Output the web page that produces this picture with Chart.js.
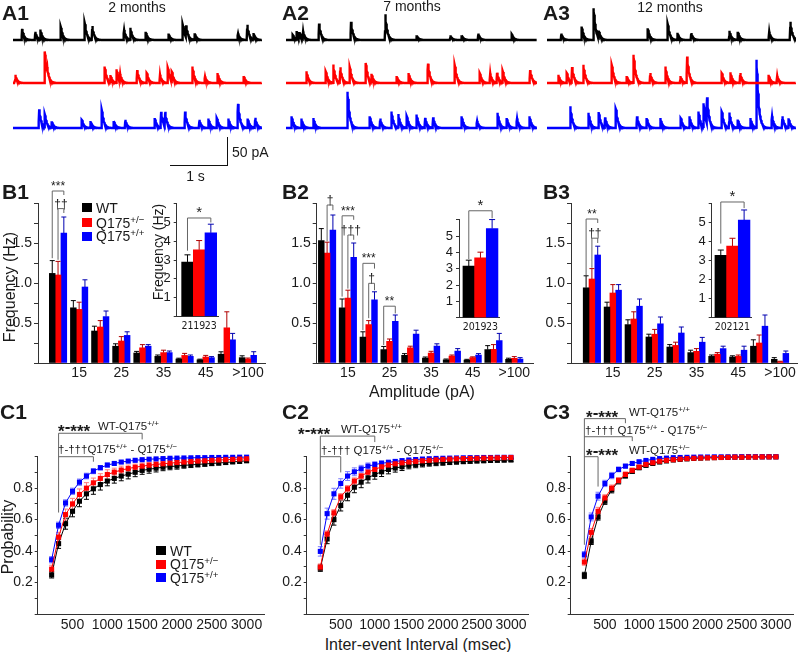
<!DOCTYPE html>
<html>
<head>
<meta charset="utf-8">
<script src="https://cdn.jsdelivr.net/npm/chart.js@4.4.0/dist/chart.umd.min.js"></script>
<style>
  body { margin: 0; background: #fff; }
  #fig { position: relative; width: 800px; height: 652px; overflow: hidden; background: #fff;
         font-family: "Liberation Sans", Arial, sans-serif; color: #1a1a1a; }
  #fig canvas { position: absolute; }
  .t { position: absolute; white-space: nowrap; line-height: 1; transform: translateY(-50%); }
  .c { transform: translate(-50%, -50%); }
  .r { transform: translate(-50%, -50%) rotate(-90deg); }
  .p { font-weight: bold; font-size: 21px; }
  .s { font-size: 70%; position: relative; top: -0.5em; }
  .sw { position: absolute; width: 10px; height: 9px; }
  .st { font-weight: bold; font-size: 17px; }
  .st i { font-style: normal; position: relative; top: -0.27em; }
</style>
</head>
<body>
<div id="fig">
  <canvas id="a1"></canvas><canvas id="a2"></canvas><canvas id="a3"></canvas>
  <canvas id="b1"></canvas><canvas id="b2"></canvas><canvas id="b3"></canvas>
  <canvas id="b1i"></canvas><canvas id="b2i"></canvas><canvas id="b3i"></canvas>
  <canvas id="c1"></canvas><canvas id="c2"></canvas><canvas id="c3"></canvas>

  <!-- panel letters and titles -->
  <div class="t p" style="left:2px;top:11.5px">A1</div>
  <div class="t p" style="left:282px;top:11.5px">A2</div>
  <div class="t p" style="left:543px;top:11.5px">A3</div>
  <div class="t c" style="left:137px;top:7px;font-size:14px">2 months</div>
  <div class="t c" style="left:412px;top:6px;font-size:14px">7 months</div>
  <div class="t c" style="left:670px;top:6.5px;font-size:14px">12 months</div>

  <!-- scale bar -->
  <div style="position:absolute;left:227px;top:137px;width:1px;height:29px;background:#111"></div>
  <div style="position:absolute;left:170px;top:165px;width:58px;height:1px;background:#111"></div>
  <div class="t" style="left:232px;top:152px;font-size:14px">50 pA</div>
  <div class="t c" style="left:195.5px;top:176px;font-size:14px">1 s</div>

  <div class="t p" style="left:2px;top:190.5px">B1</div>
  <div class="t p" style="left:282px;top:191px">B2</div>
  <div class="t p" style="left:543px;top:190.5px">B3</div>
  <div class="t r" style="left:10px;top:287px;font-size:16px">Frequency (Hz)</div>
  <div class="t r" style="left:158px;top:252px;font-size:14px">Frequency (Hz)</div>
  <div class="t c" style="left:422px;top:392px;font-size:16px">Amplitude (pA)</div>

  <!-- B legend -->
  <div class="sw" style="left:82px;top:203px;background:#000"></div>
  <div class="sw" style="left:82px;top:218px;background:#ff0000"></div>
  <div class="sw" style="left:82px;top:231.5px;background:#0000ff"></div>
  <div class="t" style="left:96px;top:207.5px;font-size:14px">WT</div>
  <div class="t" style="left:96px;top:222.5px;font-size:14px">Q175<span class="s">+/−</span></div>
  <div class="t" style="left:96px;top:236px;font-size:14px">Q175<span class="s">+/+</span></div>

  <div class="t p" style="left:0px;top:410.5px">C1</div>
  <div class="t p" style="left:282px;top:410.5px">C2</div>
  <div class="t p" style="left:543px;top:410.5px">C3</div>
  <div class="t r" style="left:8px;top:537px;font-size:16px">Probability</div>
  <div class="t c" style="left:418px;top:645px;font-size:16px">Inter-event Interval (msec)</div>

  <!-- C legend -->
  <div class="sw" style="left:156px;top:546px;background:#000"></div>
  <div class="sw" style="left:156px;top:559.5px;background:#ff0000"></div>
  <div class="sw" style="left:156px;top:573px;background:#0000ff"></div>
  <div class="t" style="left:170px;top:550.5px;font-size:14px">WT</div>
  <div class="t" style="left:170px;top:564px;font-size:14px">Q175<span class="s">+/−</span></div>
  <div class="t" style="left:170px;top:577.5px;font-size:14px">Q175<span class="s">+/+</span></div>

  <!-- C significance labels -->
  <div class="t st" style="left:58px;top:431px">*<i>-</i>***</div>
  <div class="t" style="left:98px;top:427px;font-size:11.5px">WT-Q175<span class="s">+/+</span></div>
  <div class="t" style="left:58px;top:450px;font-size:11.5px">†-†††Q175<span class="s">+/+</span> - Q175<span class="s">+/−</span></div>
  <div class="t st" style="left:298px;top:434px">*<i>-</i>***</div>
  <div class="t" style="left:341px;top:430px;font-size:11.5px">WT-Q175<span class="s">+/+</span></div>
  <div class="t" style="left:321px;top:451px;font-size:11.5px">†-††† Q175<span class="s">+/+</span> - Q175<span class="s">+/−</span></div>
  <div class="t st" style="left:586px;top:416.7px">*<i>-</i>***</div>
  <div class="t" style="left:629px;top:412.7px;font-size:11.5px">WT-Q175<span class="s">+/+</span></div>
  <div class="t" style="left:585px;top:430.7px;font-size:11.5px">†-††† Q175<span class="s">+/+</span> - Q175<span class="s">+/−</span></div>
  <div class="t st" style="left:586px;top:455px">*<i>-</i>***</div>
  <div class="t" style="left:629px;top:451px;font-size:11.5px">WT-Q175<span class="s">+/−</span></div>
</div>

<script>
/* ---------- data ---------- */

/* A: sample traces, event times (s) and amplitudes (pA) */
var A1_WT_T = [0.16, 0.39, 0.48, 0.84, 1.26, 1.39, 1.95, 2.06, 2.33, 2.73, 2.98, 3.04, 3.19, 3.95, 4.11, 4.22];
var A1_WT_A = [19, 14, 17, 23, 30, 23, 17, 20, 14, 11, 27, 20, 11, 11, 26, 11];
var A1_HET_T = [0.04, 0.56, 0.60, 1.61, 1.71, 1.82, 1.88, 2.18, 2.35, 2.58, 2.72, 2.79, 3.15, 3.37, 3.59, 4.05];
var A1_HET_A = [14, 54, 10, 28, 12, 23, 11, 22, 17, 14, 26, 16, 28, 11, 17, 12];
var A1_HOM_T = [0.46, 0.56, 0.68, 1.21, 1.36, 1.56, 1.77, 1.97, 2.49, 2.60, 2.67, 3.02, 3.27, 3.43, 3.58, 3.78, 3.95, 4.12, 4.25];
var A1_HOM_A = [32, 22, 11, 14, 12, 31, 12, 14, 17, 27, 24, 28, 14, 16, 17, 16, 41, 16, 17];

var A2_WT_T = [0.12, 0.19, 0.24, 0.30, 0.58, 1.14, 1.74, 2.29, 2.88, 3.08, 3.37, 3.96];
var A2_WT_A = [9, 14, 10, 12, 28, 31, 44, 8, 8, 8, 11, 10];
var A2_HET_T = [0.36, 0.70, 0.83, 0.95, 1.12, 1.40, 1.50, 1.94, 2.15, 2.49, 2.96, 3.40, 3.58, 3.70, 3.80, 4.28];
var A2_HET_A = [20, 20, 31, 26, 27, 34, 14, 12, 17, 33, 31, 17, 16, 17, 20, 22];
var A2_HOM_T = [0.10, 0.27, 0.48, 1.08, 1.47, 1.65, 1.85, 1.97, 2.12, 2.29, 2.44, 2.58, 3.08, 3.35, 3.71, 3.87, 4.05, 4.27];
var A2_HOM_A = [20, 16, 17, 62, 20, 16, 28, 23, 20, 23, 17, 18, 20, 12, 26, 17, 16, 20];

var A3_WT_T = [0.25, 0.61, 0.82, 0.91, 1.77, 2.12, 2.29, 2.53, 3.20, 3.35, 3.90, 4.27];
var A3_WT_A = [11, 23, 54, 12, 20, 28, 12, 12, 16, 14, 14, 31];
var A3_HET_T = [0.20, 0.35, 0.44, 0.64, 1.14, 1.40, 1.52, 1.81, 2.08, 2.34, 2.46, 3.07, 3.22, 3.39, 3.89, 4.04];
var A3_HET_A = [14, 17, 26, 31, 31, 12, 48, 17, 28, 12, 45, 17, 18, 17, 14, 12];
var A3_HOM_T = [0.41, 0.73, 0.91, 1.02, 1.21, 1.58, 1.75, 1.99, 2.35, 2.50, 2.66, 2.75, 2.81, 3.07, 3.20, 3.35, 3.57, 3.68, 3.95, 4.13, 4.24];
var A3_HOM_A = [37, 26, 27, 17, 33, 20, 17, 17, 17, 20, 28, 40, 45, 28, 26, 14, 17, 116, 20, 20, 16];

/* B: amplitude histogram (Hz) */
var BINS = ['10', '15', '20', '25', '30', '35', '40', '45', '100', '>100'];
var BIN_TICKS = ['15', '25', '35', '45', '>100'];
var B1_WT = [1.12, 0.69, 0.40, 0.21, 0.125, 0.083, 0.05, 0.04, 0.11, 0.067];
var B1_WT_ERR = [0.16, 0.09, 0.06, 0.03, 0.02, 0.017, 0.01, 0.008, 0.03, 0.023];
var B1_HET = [1.10, 0.67, 0.45, 0.275, 0.19, 0.13, 0.095, 0.075, 0.44, 0.05];
var B1_HET_ERR = [0.17, 0.09, 0.08, 0.055, 0.04, 0.03, 0.025, 0.02, 0.20, 0.012];
var B1_HOM = [1.625, 0.95, 0.58, 0.345, 0.21, 0.13, 0.083, 0.067, 0.29, 0.096];
var B1_HOM_ERR = [0.20, 0.09, 0.07, 0.045, 0.02, 0.02, 0.017, 0.013, 0.08, 0.045];

var B2_WT = [1.53, 0.69, 0.325, 0.167, 0.096, 0.063, 0.04, 0.038, 0.167, 0.046];
var B2_WT_ERR = [0.15, 0.11, 0.065, 0.04, 0.021, 0.012, 0.01, 0.008, 0.05, 0.014];
var B2_HET = [1.375, 0.81, 0.48, 0.27, 0.19, 0.125, 0.088, 0.067, 0.17, 0.058];
var B2_HET_ERR = [0.135, 0.10, 0.05, 0.03, 0.02, 0.021, 0.012, 0.01, 0.06, 0.022];
var B2_HOM = [1.66, 1.32, 0.79, 0.52, 0.36, 0.21, 0.15, 0.10, 0.28, 0.05];
var B2_HOM_ERR = [0.19, 0.18, 0.10, 0.08, 0.05, 0.03, 0.03, 0.017, 0.09, 0.017];

var B3_WT = [0.94, 0.70, 0.48, 0.325, 0.20, 0.13, 0.083, 0.075, 0.21, 0.046];
var B3_WT_ERR = [0.15, 0.06, 0.06, 0.035, 0.03, 0.03, 0.017, 0.015, 0.08, 0.021];
var B3_HET = [1.05, 0.875, 0.55, 0.36, 0.22, 0.146, 0.11, 0.083, 0.25, 0.017];
var B3_HET_ERR = [0.13, 0.105, 0.09, 0.06, 0.04, 0.034, 0.02, 0.017, 0.10, 0.005];
var B3_HOM = [1.35, 0.91, 0.71, 0.49, 0.375, 0.26, 0.18, 0.16, 0.46, 0.12];
var B3_HOM_ERR = [0.11, 0.07, 0.09, 0.085, 0.075, 0.06, 0.03, 0.05, 0.14, 0.03];

/* B insets: total frequency (Hz) and n cells */
var B1_TOTAL = [2.9, 3.55, 4.45];  var B1_TOTAL_ERR = [0.38, 0.49, 0.46];  var B1_N = ['21', '19', '23'];
var B2_TOTAL = [3.16, 3.67, 5.47]; var B2_TOTAL_ERR = [0.37, 0.35, 0.55]; var B2_N = ['20', '19', '23'];
var B3_TOTAL = [3.28, 3.77, 5.14]; var B3_TOTAL_ERR = [0.28, 0.41, 0.53]; var B3_N = ['20', '21', '21'];

/* C: cumulative inter-event interval */
var INTERVALS = [200, 300, 400, 500, 600, 700, 800, 900, 1000, 1100, 1200, 1300, 1400, 1500, 1600, 1700, 1800, 1900, 2000,
                 2100, 2200, 2300, 2400, 2500, 2600, 2700, 2800, 2900, 3000];
var INTERVAL_TICKS = [500, 1000, 1500, 2000, 2500, 3000];
var C1_WT = [0.249, 0.447, 0.574, 0.653, 0.717, 0.764, 0.796, 0.823, 0.845, 0.862, 0.877, 0.889, 0.901, 0.913, 0.920, 0.927, 0.933, 0.937, 0.941,
             0.945, 0.948, 0.951, 0.954, 0.957, 0.960, 0.963, 0.967, 0.970, 0.974];
var C1_WT_ERR = [0.02, 0.03, 0.035, 0.035, 0.035, 0.035, 0.035, 0.035, 0.03, 0.03, 0.03, 0.03, 0.028, 0.025, 0.025, 0.024, 0.022, 0.02, 0.02,
                 0.018, 0.017, 0.016, 0.015, 0.014, 0.013, 0.012, 0.011, 0.010, 0.010];
var C1_HET = [0.285, 0.489, 0.632, 0.700, 0.760, 0.800, 0.834, 0.862, 0.887, 0.902, 0.915, 0.925, 0.933, 0.940, 0.946, 0.951, 0.955, 0.959, 0.963,
              0.966, 0.969, 0.972, 0.974, 0.977, 0.979, 0.981, 0.983, 0.985, 0.987];
var C1_HET_ERR = [0.025, 0.03, 0.035, 0.035, 0.035, 0.035, 0.03, 0.03, 0.03, 0.025, 0.025, 0.022, 0.02, 0.02, 0.018, 0.017, 0.016, 0.015, 0.014,
                  0.013, 0.012, 0.011, 0.010, 0.010, 0.009, 0.008, 0.008, 0.007, 0.007];
var C1_HOM = [0.345, 0.564, 0.706, 0.780, 0.838, 0.877, 0.908, 0.930, 0.947, 0.957, 0.966, 0.972, 0.977, 0.981, 0.984, 0.986, 0.988, 0.990, 0.991,
              0.992, 0.993, 0.994, 0.994, 0.995, 0.995, 0.996, 0.996, 0.997, 0.997];
var C1_HOM_ERR = [0.02, 0.02, 0.02, 0.02, 0.02, 0.018, 0.016, 0.014, 0.012, 0.01, 0.009, 0.008, 0.007, 0.006, 0.006, 0.005, 0.005, 0.005, 0.004,
                  0.004, 0.004, 0.003, 0.003, 0.003, 0.003, 0.003, 0.003, 0.003, 0.003];

var C2_WT = [0.291, 0.477, 0.600, 0.690, 0.755, 0.806, 0.838, 0.866, 0.887, 0.904, 0.919, 0.928, 0.936, 0.945, 0.950, 0.954, 0.958, 0.960, 0.962,
             0.965, 0.967, 0.969, 0.971, 0.973, 0.974, 0.976, 0.977, 0.978, 0.979];
var C2_WT_ERR = [0.02, 0.03, 0.035, 0.035, 0.035, 0.035, 0.035, 0.033, 0.03, 0.03, 0.028, 0.026, 0.024, 0.022, 0.02, 0.019, 0.018, 0.017, 0.016,
                 0.015, 0.014, 0.013, 0.012, 0.012, 0.011, 0.011, 0.010, 0.010, 0.010];
var C2_HET = [0.298, 0.508, 0.643, 0.745, 0.796, 0.845, 0.877, 0.902, 0.919, 0.936, 0.947, 0.955, 0.961, 0.966, 0.970, 0.974, 0.977, 0.980, 0.983,
              0.985, 0.987, 0.988, 0.989, 0.990, 0.991, 0.992, 0.993, 0.994, 0.995];
var C2_HET_ERR = [0.02, 0.02, 0.02, 0.02, 0.02, 0.02, 0.018, 0.016, 0.015, 0.013, 0.012, 0.011, 0.01, 0.009, 0.008, 0.007, 0.007, 0.006, 0.006,
                  0.005, 0.005, 0.005, 0.004, 0.004, 0.004, 0.004, 0.004, 0.004, 0.004];
var C2_HOM = [0.398, 0.638, 0.764, 0.830, 0.877, 0.904, 0.923, 0.940, 0.950, 0.958, 0.964, 0.970, 0.975, 0.979, 0.982, 0.985, 0.987, 0.989, 0.990,
              0.991, 0.992, 0.993, 0.994, 0.994, 0.995, 0.995, 0.996, 0.996, 0.996];
var C2_HOM_ERR = [0.03, 0.035, 0.035, 0.03, 0.028, 0.025, 0.022, 0.02, 0.018, 0.016, 0.014, 0.012, 0.011, 0.01, 0.009, 0.008, 0.007, 0.006, 0.006,
                  0.005, 0.005, 0.005, 0.004, 0.004, 0.004, 0.004, 0.004, 0.004, 0.004];

var C3_WT = [0.245, 0.462, 0.617, 0.717, 0.790, 0.845, 0.880, 0.908, 0.930, 0.945, 0.957, 0.966, 0.973, 0.979, 0.983, 0.986, 0.989, 0.991, 0.993,
             0.994, 0.995, 0.996, 0.997, 0.997, 0.998, 0.998, 0.999, 0.999, 0.999];
var C3_WT_ERR = [0.02, 0.02, 0.02, 0.02, 0.02, 0.018, 0.016, 0.014, 0.012, 0.01, 0.009, 0.008, 0.007, 0.006, 0.005, 0.005, 0.004, 0.004, 0.003,
                 0.003, 0.003, 0.003, 0.002, 0.002, 0.002, 0.002, 0.002, 0.002, 0.002];
var C3_HET = [0.330, 0.519, 0.653, 0.738, 0.800, 0.849, 0.887, 0.913, 0.934, 0.951, 0.962, 0.971, 0.977, 0.981, 0.985, 0.988, 0.990, 0.992, 0.993,
              0.994, 0.995, 0.996, 0.997, 0.997, 0.998, 0.998, 0.999, 0.999, 0.999];
var C3_HET_ERR = [0.02, 0.025, 0.025, 0.02, 0.02, 0.018, 0.016, 0.014, 0.012, 0.01, 0.009, 0.008, 0.007, 0.006, 0.005, 0.005, 0.004, 0.004, 0.003,
                  0.003, 0.003, 0.003, 0.002, 0.002, 0.002, 0.002, 0.002, 0.002, 0.002];
var C3_HOM = [0.377, 0.617, 0.749, 0.830, 0.880, 0.919, 0.940, 0.957, 0.968, 0.976, 0.983, 0.988, 0.991, 0.994, 0.995, 0.996, 0.997, 0.998, 0.998,
              0.999, 0.999, 0.999, 0.999, 1.0, 1.0, 1.0, 1.0, 1.0, 1.0];
var C3_HOM_ERR = [0.02, 0.025, 0.025, 0.02, 0.02, 0.015, 0.012, 0.01, 0.008, 0.007, 0.006, 0.005, 0.004, 0.004, 0.003, 0.003, 0.003, 0.002, 0.002,
                  0.002, 0.002, 0.002, 0.002, 0.002, 0.002, 0.002, 0.002, 0.002, 0.002];

/* ---------- styling ---------- */
var COLORS = ['#000000', '#ff0000', '#0000ff'];
var BAR_ERR = ['#000000', '#b00000', '#0000b0'];
var CDF_ERR = ['#000000', '#ff7a7a', '#7a7aff'];
var INK = '#1a1a1a';
var AXIS = '#333333';
var BRACKET = '#666666';
var NARROW = '"Liberation Sans Narrow", "DejaVu Sans Condensed", "Liberation Sans", Arial, sans-serif';

Chart.defaults.font.family = '"Liberation Sans", Arial, sans-serif';
Chart.defaults.color = INK;

function place(id, L, T, W, H) {
  var c = document.getElementById(id);
  c.width = W; c.height = H;
  c.style.left = L + 'px'; c.style.top = T + 'px';
  c.style.width = W + 'px'; c.style.height = H + 'px';
  return c;
}

function baseOpts(L, T, W, H, area) {
  return {
    responsive: false, animation: false, events: [],
    layout: { padding: { left: 0, bottom: 0, top: area.t - T, right: L + W - area.r } },
    plugins: { legend: { display: false }, tooltip: { enabled: false } }
  };
}

/* fixed tick positions, so that bounds never swallow a labelled tick */
function fixedTicks(values) {
  return function (s) { s.ticks = values.map(function (v) { return { value: v }; }); };
}

/* error bars: up only for bars, both ways for the cumulative curves */
function drawErr(chart) {
  var ctx = chart.ctx, ys = chart.scales.y;
  chart.data.datasets.forEach(function (ds, di) {
    if (!ds.errs) { return; }
    var meta = chart.getDatasetMeta(di);
    ctx.save();
    ctx.lineWidth = 1;
    meta.data.forEach(function (el, i) {
      var v = ds.data[i].y, e = ds.errs[i];
      var top = ys.getPixelForValue(v + e);
      var bot = ys.getPixelForValue(ds.errBoth ? v - e : v);
      var cap = ds.capHalf;
      ctx.strokeStyle = Array.isArray(ds.errColor) ? ds.errColor[i] : ds.errColor;
      ctx.beginPath();
      ctx.moveTo(el.x, bot); ctx.lineTo(el.x, top);
      ctx.moveTo(el.x - cap, top); ctx.lineTo(el.x + cap, top);
      if (ds.errBoth) { ctx.moveTo(el.x - cap, bot); ctx.lineTo(el.x + cap, bot); }
      ctx.stroke();
    });
    ctx.restore();
  });
}
var errorBars = {
  id: 'errorBars',
  beforeDatasetsDraw: function (chart) { if (chart.config.type === 'line') { drawErr(chart); } },
  afterDatasetsDraw: function (chart) { if (chart.config.type === 'bar') { drawErr(chart); } }
};

/* significance brackets; ends given as [dataset, bar] or as x values */
function bracketPlugin(items, fontSize) {
  return {
    id: 'brackets',
    afterDatasetsDraw: function (chart) {
      var ctx = chart.ctx, xs = chart.scales.x, ys = chart.scales.y;
      ctx.save();
      ctx.strokeStyle = BRACKET; ctx.lineWidth = 1; ctx.fillStyle = INK;
      ctx.font = fontSize + 'px "Liberation Sans", Arial, sans-serif';
      ctx.textAlign = 'center'; ctx.textBaseline = 'alphabetic';
      items.forEach(function (b) {
        var x1 = b.p1 ? chart.getDatasetMeta(b.p1[0]).data[b.p1[1]].x : xs.getPixelForValue(b.x1);
        var x2 = b.p2 ? chart.getDatasetMeta(b.p2[0]).data[b.p2[1]].x : xs.getPixelForValue(b.x2);
        var yt = ys.getPixelForValue(b.top);
        ctx.beginPath();
        ctx.moveTo(x1, ys.getPixelForValue(b.la));
        ctx.lineTo(x1, yt); ctx.lineTo(x2, yt);
        ctx.lineTo(x2, ys.getPixelForValue(b.lb));
        ctx.stroke();
        if (b.text) { ctx.fillText(b.text, (x1 + x2) / 2, yt - 1); }
      });
      ctx.restore();
    }
  };
}

/* ---------- A: traces ---------- */
var TR_MAX = 68.3, TR_MIN = -187.7;           /* 150 px tall, 50 pA = 29 px */
var TR_OFFSET = [0, -73.4, -150.2];           /* black, red, blue baselines */
var RISE = 0.006, TAU = 0.035, STEP = 0.004;

function trace(times, amps, tmax, off) {
  var ts = [];
  for (var t = 0; t <= tmax + 1e-9; t += STEP) { ts.push(t); }
  times.forEach(function (t0) { ts.push(t0, t0 - RISE); });
  ts.sort(function (a, b) { return a - b; });
  return ts.filter(function (t) { return t >= 0 && t <= tmax; }).map(function (t) {
    var v = 0;
    times.forEach(function (t0, i) {
      var d = t - t0;
      if (d >= 0) { v += amps[i] * Math.exp(-d / TAU); }
      else if (d > -RISE) { v += amps[i] * (1 + d / RISE); }
    });
    return { x: t, y: v + off };
  });
}

function traceChart(id, L, W, tmax, sets) {
  var cv = place(id, L, 0, W, 150);
  new Chart(cv, {
    type: 'line',
    data: { datasets: sets.map(function (s, k) {
      return { data: trace(s[0], s[1], tmax, TR_OFFSET[k]), borderColor: COLORS[k], borderWidth: 2.4,
               pointRadius: 0, tension: 0, fill: false };
    }) },
    options: {
      responsive: false, animation: false, events: [], layout: { padding: 0 },
      plugins: { legend: { display: false }, tooltip: { enabled: false } },
      scales: { x: { type: 'linear', display: false, min: 0, max: tmax },
                y: { display: false, min: TR_MIN, max: TR_MAX } }
    }
  });
}

traceChart('a1', 13, 249, 4.37, [[A1_WT_T, A1_WT_A], [A1_HET_T, A1_HET_A], [A1_HOM_T, A1_HOM_A]]);
traceChart('a2', 286, 251, 4.40, [[A2_WT_T, A2_WT_A], [A2_HET_T, A2_HET_A], [A2_HOM_T, A2_HOM_A]]);
traceChart('a3', 547, 249, 4.37, [[A3_WT_T, A3_WT_A], [A3_HET_T, A3_HET_A], [A3_HOM_T, A3_HOM_A]]);

/* ---------- B: amplitude histograms ---------- */
var BIN_TICK_POS = BIN_TICKS.map(function (l) { return BINS.indexOf(l) + 1; });

function freqChart(id, L, T, W, H, area, xmin, xmax, groups, brs) {
  var cv = place(id, L, T, W, H);
  var opts = baseOpts(L, T, W, H, area);
  opts.scales = {
    x: { type: 'linear', min: xmin, max: xmax, offset: false,
         afterBuildTicks: fixedTicks(BIN_TICK_POS),
         afterFit: function (s) { s.height = T + H - area.b; },
         grid: { display: false, drawTicks: false, offset: false }, border: { color: AXIS },
         ticks: { autoSkip: false, minRotation: 0, maxRotation: 0, padding: 2, color: INK, font: { size: 14 },
                  callback: function (v) { return BINS[v - 1]; } } },
    y: { min: 0, max: 2,
         afterFit: function (s) { s.width = area.l - L; },
         grid: { drawOnChartArea: false, tickLength: 4, color: AXIS }, border: { color: AXIS },
         ticks: { stepSize: 0.25, autoSkip: false, padding: 2, color: INK, font: { size: 14 },
                  callback: function (v) { return (v === 0.5 || v === 1 || v === 1.5) ? v.toFixed(1) : ''; } } }
  };
  new Chart(cv, {
    type: 'bar',
    data: { datasets: groups.map(function (g, k) {
      return { data: g[0].map(function (v, i) { return { x: i + 1, y: v }; }), errs: g[1],
               errColor: BAR_ERR[k], capHalf: 2.5, backgroundColor: COLORS[k], barThickness: 5.8, borderWidth: 0 };
    }) },
    options: opts,
    plugins: [errorBars, bracketPlugin(brs, 12)]
  });
}

freqChart('b1', 0, 172, 268, 213, { l: 38, t: 203, r: 265, b: 363 }, 0.05, 10.81,
  [[B1_WT, B1_WT_ERR], [B1_HET, B1_HET_ERR], [B1_HOM, B1_HOM_ERR]],
  [{ p1: [0, 0], p2: [2, 0], top: 2.15, la: 1.31, lb: 2.10, text: '***' },
   { p1: [1, 0], p2: [2, 0], top: 1.93, la: 1.29, lb: 1.875, text: '††' }]);
freqChart('b2', 272, 172, 264, 213, { l: 316.7, t: 203, r: 533, b: 363 }, 0.5, 10.9,
  [[B2_WT, B2_WT_ERR], [B2_HET, B2_HET_ERR], [B2_HOM, B2_HOM_ERR]],
  [{ p1: [1, 0], p2: [2, 0], top: 1.975, la: 1.52, lb: 1.91, text: '†' },
   { p1: [0, 1], p2: [2, 1], top: 1.84, la: 0.83, lb: 1.79, text: '***' },
   { p1: [1, 1], p2: [2, 1], top: 1.60, la: 0.93, lb: 1.54, text: '†††' },
   { p1: [0, 2], p2: [2, 2], top: 1.246, la: 0.41, lb: 1.18, text: '***' },
   { p1: [1, 2], p2: [2, 2], top: 0.996, la: 0.56, lb: 0.91, text: '†' },
   { p1: [0, 3], p2: [2, 3], top: 0.71, la: 0.225, lb: 0.62, text: '**' }]);
freqChart('b3', 537, 172, 262, 213, { l: 571, t: 203, r: 797, b: 363 }, 0, 10.81,
  [[B3_WT, B3_WT_ERR], [B3_HET, B3_HET_ERR], [B3_HOM, B3_HOM_ERR]],
  [{ p1: [0, 0], p2: [2, 0], top: 1.80, la: 1.10, lb: 1.75, text: '**' },
   { p1: [1, 0], p2: [2, 0], top: 1.56, la: 1.19, lb: 1.50, text: '††' }]);

/* insets: total frequency */
function totalChart(id, L, T, W, H, area, xmin, xmax, vals, errs, ns, br) {
  var cv = place(id, L, T, W, H);
  var opts = baseOpts(L, T, W, H, area);
  opts.scales = {
    x: { type: 'linear', min: xmin, max: xmax, offset: false,
         afterBuildTicks: fixedTicks(ns.map(function (n, i) { return i + 1; })),
         afterFit: function (s) { s.height = T + H - area.b; },
         grid: { display: false, drawTicks: false, offset: false }, border: { color: AXIS },
         ticks: { autoSkip: false, minRotation: 0, maxRotation: 0, padding: 3, color: INK,
                  font: { family: NARROW, size: 10.5 },
                  callback: function (v) { return ns[v - 1]; } } },
    y: { min: 0, max: 6,
         afterFit: function (s) { s.width = area.l - L; },
         grid: { drawOnChartArea: false, tickLength: 3, color: AXIS }, border: { color: AXIS },
         ticks: { stepSize: 1, autoSkip: false, padding: 3, color: INK, font: { size: 13 },
                  callback: function (v) { return (v >= 1 && v <= 5) ? String(v) : ''; } } }
  };
  new Chart(cv, {
    type: 'bar',
    data: { datasets: [{ data: vals.map(function (v, i) { return { x: i + 1, y: v }; }), errs: errs,
                         errColor: BAR_ERR, capHalf: 3, backgroundColor: COLORS, barThickness: 11.67, borderWidth: 0 }] },
    options: opts,
    plugins: [errorBars, bracketPlugin([br], 15)]
  });
}

totalChart('b1i', 150, 190, 72, 145, { l: 176.7, t: 203.7, r: 218.3, b: 316.5 }, 0.075, 3.64,
  B1_TOTAL, B1_TOTAL_ERR, B1_N, { x1: 1, x2: 3, top: 5.24, la: 3.5, lb: 5.0, text: '*' });
totalChart('b2i', 435, 190, 67, 146, { l: 459, t: 219.9, r: 499, b: 317.7 }, 0.16, 3.59,
  B2_TOTAL, B2_TOTAL_ERR, B2_N, { x1: 1, x2: 3, top: 6.56, la: 3.6, lb: 6.1, text: '*' });
totalChart('b3i', 688, 185, 67, 151, { l: 711.7, t: 203.7, r: 751.7, b: 317.7 }, 0.22, 3.65,
  B3_TOTAL, B3_TOTAL_ERR, B3_N, { x1: 1, x2: 3, top: 6.09, la: 3.9, lb: 5.77, text: '*' });

/* ---------- C: cumulative inter-event interval ---------- */
function cdfChart(id, L, T, W, H, area, series, brs) {
  var cv = place(id, L, T, W, H);
  var opts = baseOpts(L, T, W, H, area);
  opts.scales = {
    x: { type: 'linear', position: 'bottom', min: 0, max: 3250, offset: false,
         afterBuildTicks: fixedTicks(INTERVAL_TICKS),
         afterFit: function (s) { s.height = T + H - area.b; },
         grid: { display: false, drawTicks: false }, border: { display: true, color: AXIS },
         ticks: { display: true, autoSkip: false, minRotation: 0, maxRotation: 0, padding: 3, color: INK, font: { size: 14 },
                  callback: function (v) { return String(v); } } },
    y: { min: 0, max: 1,
         afterFit: function (s) { s.width = area.l - L; },
         grid: { drawOnChartArea: false, tickLength: 3, color: AXIS }, border: { color: AXIS },
         ticks: { stepSize: 0.1, autoSkip: false, padding: 2, color: INK, font: { size: 14 },
                  callback: function (v) {
                    var r = Math.round(v * 10);
                    return (Math.abs(v * 10 - r) < 1e-6 && (r === 2 || r === 4 || r === 6 || r === 8)) ? (r / 10).toFixed(1) : '';
                  } } }
  };
  var ORDER = [3, 1, 2];   /* red drawn on top, then blue, then WT */
  new Chart(cv, {
    type: 'line',
    data: { datasets: series.map(function (s, k) {
      return { data: INTERVALS.map(function (x, i) { return { x: x, y: s[0][i] }; }), errs: s[1], errBoth: true,
               errColor: CDF_ERR[k], capHalf: 2.5, order: ORDER[k], clip: false,
               borderColor: COLORS[k], backgroundColor: COLORS[k], borderWidth: 1, tension: 0,
               pointStyle: 'rect', pointRadius: 3.6, pointBorderWidth: 0, pointBackgroundColor: COLORS[k] };
    }) },
    options: opts,
    plugins: [errorBars, bracketPlugin(brs, 12)]
  });
}

cdfChart('c1', 0, 405, 268, 231, { l: 37.7, t: 456.7, r: 265, b: 614 },
  [[C1_WT, C1_WT_ERR], [C1_HET, C1_HET_ERR], [C1_HOM, C1_HOM_ERR]],
  [{ x1: 300, x2: 1500, top: 1.149, la: 0.645, lb: 1.11 },
   { x1: 300, x2: 800, top: 1.0, la: 1.0, lb: 0.968 }]);
cdfChart('c2', 270, 405, 262, 231, { l: 306.7, t: 456.7, r: 528.7, b: 614 },
  [[C2_WT, C2_WT_ERR], [C2_HET, C2_HET_ERR], [C2_HOM, C2_HOM_ERR]],
  [{ x1: 200, x2: 1000, top: 1.131, la: 0.44, lb: 1.093 },
   { x1: 200, x2: 500, top: 1.0, la: 1.0, lb: 0.90 }]);
cdfChart('c3', 535, 405, 262, 231, { l: 570.7, t: 456.7, r: 793.7, b: 614 },
  [[C3_WT, C3_WT_ERR], [C3_HET, C3_HET_ERR], [C3_HOM, C3_HOM_ERR]],
  [{ x1: 200, x2: 800, top: 1.242, la: 0.44, lb: 1.213 },
   { x1: 200, x2: 900, top: 1.127, la: 1.127, lb: 1.099 },
   { x1: 200, x2: 400, top: 1.0, la: 1.0, lb: 0.81 }]);
</script>
</body>
</html>
